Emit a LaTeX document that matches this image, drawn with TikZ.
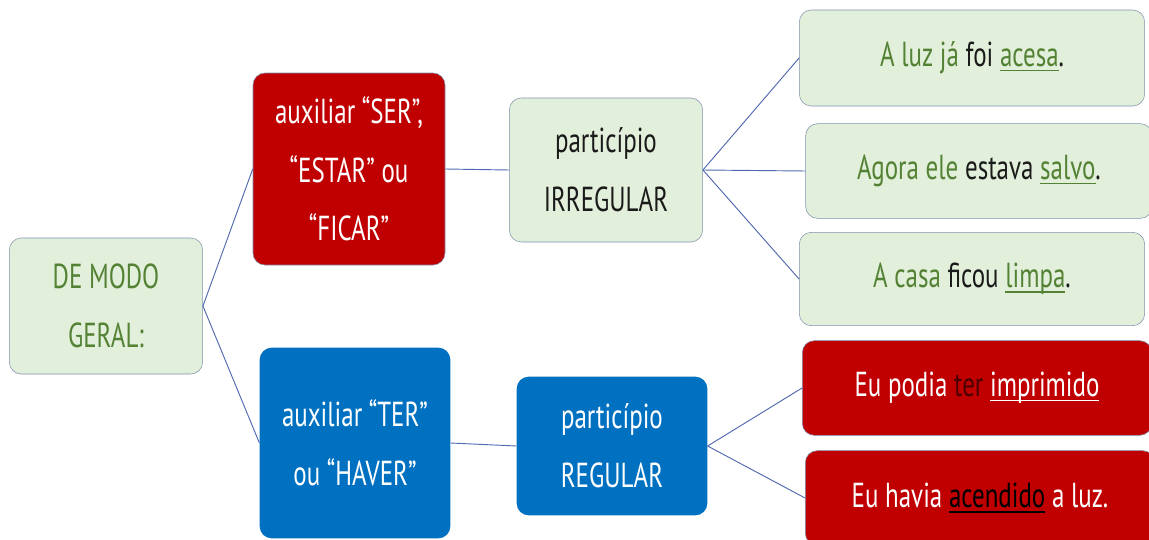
\documentclass[tikz,border=0pt]{standalone}
\usepackage{fontspec}
\setmainfont[FakeStretch=0.72]{PT Sans}
\newcommand{\ulword}[1]{\leavevmode\setbox0\hbox{#1}\rlap{\rule[-3.5pt]{\wd0}{1.3pt}}\box0}
\definecolor{boxgreen}{HTML}{E2EFDA}
\definecolor{textgreen}{HTML}{548235}
\definecolor{textdark}{HTML}{1A1A1A}
\definecolor{boxred}{HTML}{C00000}
\definecolor{boxblue}{HTML}{0070C0}
\definecolor{edgegray}{HTML}{8090B0}
\definecolor{linkblue}{HTML}{5068B0}
\definecolor{darkred}{HTML}{4A0000}
\begin{document}
\begin{tikzpicture}[x=0.75pt,y=-0.75pt,
    greenbox/.style={draw=edgegray, fill=boxgreen, rounded corners=9pt, align=center, inner sep=0pt},
    redbox/.style={draw=edgegray, fill=boxred, text=white, rounded corners=9pt, align=center, inner sep=0pt},
    bluebox/.style={fill=boxblue, text=white, rounded corners=9pt, align=center, inner sep=0pt},
    link/.style={draw=linkblue, line width=0.7pt},
    bigtxt/.style={font=\fontsize{26}{44}\selectfont}]
    \useasboundingbox (0,0) rectangle (1149,539);

    % Left node
    \node[greenbox, bigtxt, text=textgreen, minimum width=145pt, minimum height=102pt] (geral) at (106,306) {DE MODO\\GERAL:};

    % Auxiliaries
    \node[redbox, bigtxt, minimum width=144pt, minimum height=144pt] (ser) at (349,169) {auxiliar ``SER'',\\``ESTAR'' ou\\``FICAR''};
    \node[bluebox, bigtxt, minimum width=143pt, minimum height=143pt] (ter) at (355,443) {auxiliar ``TER''\\ou ``HAVER''};

    % Participles
    \node[greenbox, bigtxt, text=textdark, minimum width=145pt, minimum height=108pt] (irreg) at (606,170) {particípio\\IRREGULAR};
    \node[bluebox, bigtxt, minimum width=143pt, minimum height=104pt] (reg) at (612,446) {particípio\\REGULAR};

    % Examples
    \node[greenbox, bigtxt, text=textdark, minimum width=259pt, minimum height=72pt] (acesa) at (972,58)
        {\textcolor{textgreen}{A luz já} foi \textcolor{textgreen}{\ulword{acesa}}.};
    \node[greenbox, bigtxt, text=textdark, minimum width=260pt, minimum height=71pt] (salvo) at (979,171)
        {\textcolor{textgreen}{Agora ele} estava \textcolor{textgreen}{\ulword{salvo}}.};
    \node[greenbox, bigtxt, text=textdark, minimum width=259pt, minimum height=70pt] (limpa) at (972,279)
        {\textcolor{textgreen}{A casa} ficou \textcolor{textgreen}{\ulword{limpa}}.};
    \node[redbox, bigtxt, minimum width=262pt, minimum height=71pt] (imprimido) at (977,388)
        {Eu podia \textcolor{darkred}{ter} \ulword{imprimido}};
    \node[redbox, bigtxt, minimum width=262pt, minimum height=71pt] (acendido) at (980,498)
        {Eu havia \textcolor{black}{\ulword{acendido}} a luz.};

    % Connectors
    \draw[link] (geral.east) -- (ser.west);
    \draw[link] (geral.east) -- (ter.west);
    \draw[link] (ser.east) -- (irreg.west);
    \draw[link] (ter.east) -- (reg.west);
    \foreach \ex in {acesa,salvo,limpa} {
        \draw[link] (irreg.east) -- (\ex.west);
    }
    \foreach \ex in {imprimido,acendido} {
        \draw[link] (reg.east) -- (\ex.west);
    }
\end{tikzpicture}
\end{document}
